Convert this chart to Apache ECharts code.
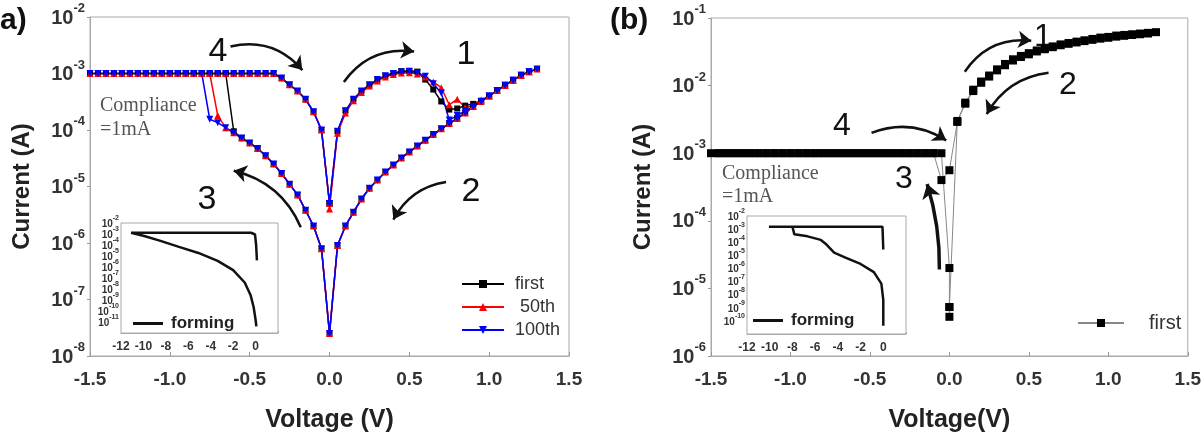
<!DOCTYPE html>
<html>
<head>
<meta charset="utf-8">
<script src="https://cdn.jsdelivr.net/npm/echarts@6/dist/echarts.min.js"></script>
<style>
  html, body { margin: 0; padding: 0; background: #fff; }
  #chart { width: 1204px; height: 438px; }
</style>
</head>
<body>
<div id="chart"></div>
<script>
// ---- panel (a): I-V sweeps, 0.05 V steps ----
const vUp = [0, 0.05, 0.1, 0.15, 0.2, 0.25, 0.3, 0.35, 0.4, 0.45, 0.5, 0.55, 0.6, 0.65, 0.7, 0.75, 0.8, 0.85, 0.9, 0.95, 1.0, 1.05, 1.1, 1.15, 1.2, 1.25, 1.3];
const vDown = [1.25, 1.2, 1.15, 1.1, 1.05, 1.0, 0.95, 0.9, 0.85, 0.8, 0.75, 0.7, 0.65, 0.6, 0.55, 0.5, 0.45, 0.4, 0.35, 0.3, 0.25, 0.2, 0.15, 0.1, 0.05, 0];
const vNeg = [-0.05, -0.1, -0.15, -0.2, -0.25, -0.3, -0.35, -0.4, -0.45, -0.5, -0.55, -0.6, -0.65, -0.7, -0.75, -0.8, -0.85, -0.9, -0.95, -1.0, -1.05, -1.1, -1.15, -1.2, -1.25, -1.3, -1.35, -1.4, -1.45, -1.5];
const vBack = [-1.45, -1.4, -1.35, -1.3, -1.25, -1.2, -1.15, -1.1, -1.05, -1.0, -0.95, -0.9, -0.85, -0.8, -0.75, -0.7, -0.65, -0.6, -0.55, -0.5, -0.45, -0.4, -0.35, -0.3, -0.25, -0.2, -0.15, -0.1, -0.05, 0];

const upFirst = [5.0e-6, 9.5e-5, 2.2e-4, 3.5e-4, 4.9e-4, 6.3e-4, 7.8e-4, 9.1e-4, 1.02e-3, 1.1e-3, 1.12e-3, 1.08e-3, 7.8e-4, 5.2e-4, 3.2e-4, 2.3e-4, 2.4e-4, 2.7e-4, 2.9e-4, 3.3e-4, 4.0e-4, 5.0e-4, 6.2e-4, 7.6e-4, 9.3e-4, 1.07e-3, 1.2e-3];
const upFifty = [4.0e-6, 8.8e-5, 2.0e-4, 3.3e-4, 4.6e-4, 6.0e-4, 7.4e-4, 8.7e-4, 9.6e-4, 1.02e-3, 1.03e-3, 9.8e-4, 8.7e-4, 7.1e-4, 5.6e-4, 2.8e-4, 3.5e-4, 2.5e-4, 2.7e-4, 3.4e-4, 4.0e-4, 5.0e-4, 6.2e-4, 7.6e-4, 9.3e-4, 1.07e-3, 1.2e-3];
const upHundred = [5.0e-6, 9.5e-5, 2.2e-4, 3.5e-4, 4.9e-4, 6.3e-4, 7.8e-4, 9.1e-4, 1.0e-3, 1.06e-3, 1.08e-3, 1.03e-3, 8.9e-4, 6.6e-4, 4.5e-4, 1.5e-4, 1.8e-4, 2.2e-4, 2.6e-4, 3.2e-4, 4.0e-4, 5.0e-4, 6.2e-4, 7.6e-4, 9.3e-4, 1.07e-3, 1.2e-3];

const downBranch = [1.07e-3, 9.3e-4, 7.6e-4, 6.2e-4, 5.0e-4, 4.0e-4, 3.2e-4, 2.6e-4, 2.0e-4, 1.6e-4, 1.3e-4, 1.05e-4, 8.3e-5, 6.6e-5, 5.2e-5, 4.1e-5, 3.2e-5, 2.4e-5, 1.8e-5, 1.3e-5, 9.3e-6, 6.0e-6, 3.5e-6, 2.0e-6, 9.0e-7, 2.5e-8];

const negFirst = [7.9e-7, 2.0e-6, 3.8e-6, 7.1e-6, 1.1e-5, 1.7e-5, 2.5e-5, 3.5e-5, 4.7e-5, 5.9e-5, 7.2e-5, 9.5e-5, 1e-3, 1e-3, 1e-3, 1e-3, 1e-3, 1e-3, 1e-3, 1e-3, 1e-3, 1e-3, 1e-3, 1e-3, 1e-3, 1e-3, 1e-3, 1e-3, 1e-3, 1e-3];
const negFifty = [7.9e-7, 2.0e-6, 3.8e-6, 7.1e-6, 1.1e-5, 1.7e-5, 2.5e-5, 3.5e-5, 4.7e-5, 5.9e-5, 7.2e-5, 8.9e-5, 1.1e-4, 1.8e-4, 1e-3, 1e-3, 1e-3, 1e-3, 1e-3, 1e-3, 1e-3, 1e-3, 1e-3, 1e-3, 1e-3, 1e-3, 1e-3, 1e-3, 1e-3, 1e-3];
const negHundred = [7.9e-7, 2.0e-6, 3.8e-6, 7.1e-6, 1.1e-5, 1.7e-5, 2.5e-5, 3.5e-5, 4.7e-5, 5.9e-5, 7.2e-5, 8.9e-5, 1.1e-4, 1.35e-4, 1.55e-4, 1e-3, 1e-3, 1e-3, 1e-3, 1e-3, 1e-3, 1e-3, 1e-3, 1e-3, 1e-3, 1e-3, 1e-3, 1e-3, 1e-3, 1e-3];

const backBranch = [1e-3, 1e-3, 1e-3, 1e-3, 1e-3, 1e-3, 1e-3, 1e-3, 1e-3, 1e-3, 1e-3, 1e-3, 1e-3, 1e-3, 1e-3, 1e-3, 1e-3, 1e-3, 1e-3, 1e-3, 1e-3, 1e-3, 1.0e-3, 8.3e-4, 6.3e-4, 4.9e-4, 3.5e-4, 2.1e-4, 1.0e-4, 5.0e-6];

// inset (a): forming sweep
const formingAV = [0.07, 0.0, -0.17, -0.45, -0.97, -2.0, -3.38, -5.1, -6.83, -8.55, -9.93, -11.1, -0.4, -0.05, 0.05, 0.12];
const formingAI = [4e-12, 1.6e-11, 2.2e-10, 2.9e-9, 3.9e-8, 5.2e-7, 3.6e-6, 1.9e-5, 6.8e-5, 2.5e-4, 6.6e-4, 1.3e-3, 1.3e-3, 9e-4, 1e-4, 4e-6];

// ---- panel (b): first sweep ----
const vbUp = [0.05, 0.1, 0.15, 0.2, 0.25, 0.3, 0.35, 0.4, 0.45, 0.5, 0.55, 0.6, 0.65, 0.7, 0.75, 0.8, 0.85, 0.9, 0.95, 1.0, 1.05, 1.1, 1.15, 1.2, 1.25, 1.3];
const ibUp = [3.0e-3, 5.6e-3, 8.7e-3, 1.15e-2, 1.41e-2, 1.74e-2, 2.09e-2, 2.45e-2, 2.75e-2, 3.02e-2, 3.31e-2, 3.55e-2, 3.8e-2, 4.07e-2, 4.27e-2, 4.47e-2, 4.68e-2, 4.9e-2, 5.13e-2, 5.25e-2, 5.5e-2, 5.62e-2, 5.75e-2, 5.89e-2, 6.03e-2, 6.17e-2];
const vbDown = [1.25, 1.2, 1.15, 1.1, 1.05, 1.0, 0.95, 0.9, 0.85, 0.8, 0.75, 0.7, 0.65, 0.6, 0.55, 0.5, 0.45, 0.4, 0.35, 0.3, 0.25, 0.2, 0.15, 0.1, 0.05, 0, -0.05];
const ibDown = [5.9e-2, 5.75e-2, 5.6e-2, 5.45e-2, 5.3e-2, 5.1e-2, 4.95e-2, 4.75e-2, 4.55e-2, 4.35e-2, 4.15e-2, 3.95e-2, 3.7e-2, 3.45e-2, 3.2e-2, 2.9e-2, 2.65e-2, 2.35e-2, 2.0e-2, 1.68e-2, 1.36e-2, 1.1e-2, 8.3e-3, 5.4e-3, 2.9e-3, 5.6e-4, 4.0e-4];
const vbSet = [-0.1, -0.15, -0.2, -0.25, -0.3, -0.35, -0.4, -0.45, -0.5, -0.55, -0.6, -0.65, -0.7, -0.75, -0.8, -0.85, -0.9, -0.95, -1.0, -1.05, -1.1, -1.15, -1.2, -1.25, -1.3, -1.35, -1.4, -1.45, -1.5,
               -1.45, -1.4, -1.35, -1.3, -1.25, -1.2, -1.15, -1.1, -1.05, -1.0, -0.95, -0.9, -0.85, -0.8, -0.75, -0.7, -0.65, -0.6, -0.55, -0.5, -0.45, -0.4, -0.35, -0.3, -0.25, -0.2, -0.15, -0.1, -0.05, 0, 0, 0];
const ibSet = [1e-3, 1e-3, 1e-3, 1e-3, 1e-3, 1e-3, 1e-3, 1e-3, 1e-3, 1e-3, 1e-3, 1e-3, 1e-3, 1e-3, 1e-3, 1e-3, 1e-3, 1e-3, 1e-3, 1e-3, 1e-3, 1e-3, 1e-3, 1e-3, 1e-3, 1e-3, 1e-3, 1e-3, 1e-3,
               1e-3, 1e-3, 1e-3, 1e-3, 1e-3, 1e-3, 1e-3, 1e-3, 1e-3, 1e-3, 1e-3, 1e-3, 1e-3, 1e-3, 1e-3, 1e-3, 1e-3, 1e-3, 1e-3, 1e-3, 1e-3, 1e-3, 1e-3, 1e-3, 1e-3, 1e-3, 1e-3, 1e-3, 1e-3, 2.0e-5, 5.3e-6, 3.8e-6];

// inset (b): forming sweep
const formingBV = [0, 0, -0.17, -0.83, -2.0, -3.33, -4.33, -5.0, -5.5, -6.67, -7.83, -8.0, -10.07, -0.07, 0.0];
const formingBI = [4.3e-11, 4.0e-9, 7.0e-8, 5.2e-7, 2.2e-6, 6.8e-6, 1.6e-5, 6.6e-5, 1.5e-4, 2.8e-4, 4.0e-4, 1.5e-3, 1.5e-3, 1.5e-3, 2.8e-5];

// curved arrows, in data units: [start, end, bend]
const arrowsA = [
  [[-0.62, 3.0e-3], [-0.17, 1.15e-3], 0.3],
  [[0.09, 7.1e-4], [0.53, 2.45e-3], 0.3],
  [[0.73, 1.2e-5], [0.40, 2.6e-6], -0.25],
  [[-0.18, 1.9e-6], [-0.60, 1.9e-5], -0.25]
];
const arrowsB = [
  [[0.097, 1.6e-2], [0.515, 4.6e-2], 0.3],
  [[0.624, 1.55e-2], [0.235, 3.8e-3], -0.25],
  [[-0.49, 2.0e-3], [-0.02, 1.55e-3], 0.25]
];
const arrowB3 = [[-0.063, 1.9e-5], [-0.14, 3.5e-4], -0.08];

const FONT = "'Liberation Sans', Arial, sans-serif";
const SERIF = "'Liberation Serif', 'Times New Roman', serif";

function zip(xs, ys) {
  return xs.map((x, i) => [x, ys[i]]);
}

function pow10(size, supSize, hideExp) {
  return {
    formatter: function (v) {
      const e = Math.round(Math.log10(v));
      if (e === hideExp) return '';
      return '{b|10}{s|' + e + '}';
    },
    rich: {
      b: { fontSize: size, fontWeight: 'bold', fontFamily: FONT, color: '#333', lineHeight: size + 2, verticalAlign: 'bottom' },
      s: { fontSize: supSize, fontWeight: 'bold', fontFamily: FONT, color: '#333', lineHeight: supSize, padding: [0, 0, supSize, 0], verticalAlign: 'bottom' }
    }
  };
}

const seqA = (up, neg) => zip(vUp, up).concat(zip(vDown, downBranch), zip(vNeg, neg), zip(vBack, backBranch));
const seqB = zip([0], [5.3e-6]).concat(zip(vbUp, ibUp), zip(vbDown, ibDown), zip(vbSet, ibSet));

function arrowData(list) {
  return list.map(a => ({ coords: [a[0], a[1]], lineStyle: { curveness: a[2] } }));
}

const mainX = (gi, name) => ({
  type: 'value', gridIndex: gi, min: -1.5, max: 1.5, interval: 0.5,
  name: name, nameLocation: 'middle', nameGap: 52,
  nameTextStyle: { fontSize: 25, fontWeight: 'bold', fontFamily: FONT, color: '#222' },
  axisLine: { show: true, onZero: false, lineStyle: { color: '#aaa' } },
  axisTick: { show: true, inside: true, length: 4, lineStyle: { color: '#999' } },
  axisLabel: { formatter: v => v.toFixed(1), fontSize: 19, fontWeight: 'bold', fontFamily: FONT, color: '#333', margin: 14 },
  splitLine: { show: false }
});
const mainY = (gi, min, max, n) => ({
  type: 'log', logBase: 10, gridIndex: gi, min: min, max: max, splitNumber: n,
  name: 'Current (A)', nameLocation: 'middle', nameGap: 56,
  nameTextStyle: { fontSize: 24, fontWeight: 'bold', fontFamily: FONT, color: '#222' },
  axisLine: { show: true, onZero: false, lineStyle: { color: '#aaa' } },
  axisTick: { show: true, length: 3, lineStyle: { color: '#999' } },
  axisLabel: Object.assign({ margin: 5 }, pow10(20, 13, null)),
  splitLine: { show: false }
});
const insetX = gi => ({
  type: 'value', gridIndex: gi, min: -12, max: 2, interval: 2,
  axisLine: { show: true, onZero: false, lineStyle: { color: '#aaa' } },
  axisTick: { show: true, inside: true, length: 2, lineStyle: { color: '#999' } },
  axisLabel: { formatter: v => (v === 2 ? '' : String(v)), fontSize: 12, fontWeight: 'bold', fontFamily: FONT, color: '#333', margin: 8 },
  splitLine: { show: false }
});
const insetY = (gi, min, n, hide) => ({
  type: 'log', logBase: 10, gridIndex: gi, min: min, max: 1e-2, splitNumber: n,
  axisLine: { show: true, onZero: false, lineStyle: { color: '#aaa' } },
  axisTick: { show: false },
  axisLabel: Object.assign({ margin: 2 }, pow10(10, 7, hide)),
  splitLine: { show: false }
});

const legendText = { fontSize: 18, color: '#333', fontFamily: FONT };
const formingText = { fontSize: 17, fontWeight: 'bold', color: '#222', fontFamily: FONT, padding: [0, 0, 0, 3] };

const option = {
  backgroundColor: '#fff',
  animation: false,
  grid: [
    { left: 90, top: 17, width: 479, height: 341, show: true, borderColor: '#aaa', borderWidth: 1 },
    { left: 121, top: 223, width: 157, height: 110, show: true, borderColor: '#aaa', borderWidth: 1, backgroundColor: '#fff', z: 5 },
    { left: 711, top: 18, width: 477, height: 340, show: true, borderColor: '#aaa', borderWidth: 1 },
    { left: 747, top: 216, width: 159, height: 118, show: true, borderColor: '#aaa', borderWidth: 1, backgroundColor: '#fff', z: 5 }
  ],
  xAxis: [mainX(0, 'Voltage (V)'), insetX(1), mainX(2, 'Voltage(V)'), insetX(3)],
  yAxis: [mainY(0, 1e-8, 1e-2, 6), insetY(1, 1e-12, 10, -12), mainY(2, 1e-6, 1e-1, 5), insetY(3, 1e-11, 9, -11)],
  legend: [
    { data: ['first', ' 50th', '100th'], orient: 'vertical', left: 456, top: 270, itemWidth: 42, itemHeight: 10, itemGap: 5, z: 10,
      textStyle: Object.assign({ padding: [0, 0, 0, 6] }, legendText) },
    { data: ['first '], left: 1072, top: 308, itemWidth: 46, itemHeight: 10, z: 10,
      textStyle: Object.assign({}, legendText, { fontSize: 20, padding: [0, 0, 0, 20] }) },
    { data: ['forming'], left: 128, top: 310, icon: 'rect', itemWidth: 30, itemHeight: 3, z: 10, textStyle: formingText },
    { data: ['forming '], left: 748, top: 307, icon: 'rect', itemWidth: 30, itemHeight: 3, z: 10, textStyle: formingText }
  ],
  series: [
    { name: 'first', type: 'line', xAxisIndex: 0, yAxisIndex: 0, data: seqA(upFirst, negFirst),
      symbol: 'rect', symbolSize: 6, color: '#000', lineStyle: { color: '#000', width: 1.5 }, itemStyle: { color: '#000' } },
    { name: ' 50th', type: 'line', xAxisIndex: 0, yAxisIndex: 0, data: seqA(upFifty, negFifty),
      symbol: 'triangle', symbolSize: 7, color: '#f00', lineStyle: { color: '#f00', width: 1.5 }, itemStyle: { color: '#f00' } },
    { name: '100th', type: 'line', xAxisIndex: 0, yAxisIndex: 0, data: seqA(upHundred, negHundred),
      symbol: 'path://M0,0 L10,0 L5,9 Z', symbolSize: 7, color: '#00f', lineStyle: { color: '#00f', width: 1.5 }, itemStyle: { color: '#00f' } },
    { name: 'forming', type: 'line', xAxisIndex: 1, yAxisIndex: 1, data: zip(formingAV, formingAI), z: 6,
      showSymbol: false, symbol: 'none', color: '#111', lineStyle: { color: '#111', width: 2.5 } },
    { name: 'first ', type: 'line', xAxisIndex: 2, yAxisIndex: 2, data: seqB,
      symbol: 'rect', symbolSize: 8, color: '#000', lineStyle: { color: '#888', width: 1 }, itemStyle: { color: '#000' } },
    { name: 'forming ', type: 'line', xAxisIndex: 3, yAxisIndex: 3, data: zip(formingBV, formingBI), z: 6,
      showSymbol: false, symbol: 'none', color: '#111', lineStyle: { color: '#111', width: 2.5 } },
    { type: 'lines', coordinateSystem: 'cartesian2d', xAxisIndex: 0, yAxisIndex: 0, z: 4,
      data: arrowData(arrowsA), symbol: ['none', 'arrow'], symbolSize: [0, 13],
      lineStyle: { color: '#111', width: 2.5, opacity: 1 } },
    { type: 'lines', coordinateSystem: 'cartesian2d', xAxisIndex: 2, yAxisIndex: 2, z: 4,
      data: arrowData(arrowsB), symbol: ['none', 'arrow'], symbolSize: [0, 13],
      lineStyle: { color: '#111', width: 2.5, opacity: 1 } },
    { type: 'lines', coordinateSystem: 'cartesian2d', xAxisIndex: 2, yAxisIndex: 2, z: 4,
      data: arrowData([arrowB3]), symbol: ['none', 'arrow'], symbolSize: [0, 14],
      lineStyle: { color: '#111', width: 3.5, opacity: 1 } }
  ],
  graphic: [
    { type: 'text', x: 0, y: 6, style: { text: 'a)', font: 'bold 30px ' + FONT, fill: '#111' } },
    { type: 'text', x: 610, y: 6, style: { text: '(b)', font: 'bold 30px ' + FONT, fill: '#111' } },
    // sweep order labels, panel a
    { type: 'text', x: 218, y: 52, style: { text: '4', font: '34px ' + FONT, fill: '#111', align: 'center', verticalAlign: 'middle' } },
    { type: 'text', x: 466, y: 55, style: { text: '1', font: '34px ' + FONT, fill: '#111', align: 'center', verticalAlign: 'middle' } },
    { type: 'text', x: 471, y: 192, style: { text: '2', font: '34px ' + FONT, fill: '#111', align: 'center', verticalAlign: 'middle' } },
    { type: 'text', x: 207, y: 200, style: { text: '3', font: '34px ' + FONT, fill: '#111', align: 'center', verticalAlign: 'middle' } },
    // sweep order labels, panel b
    { type: 'text', x: 1043, y: 37, style: { text: '1', font: '32px ' + FONT, fill: '#111', align: 'center', verticalAlign: 'middle' } },
    { type: 'text', x: 1068, y: 85, style: { text: '2', font: '32px ' + FONT, fill: '#111', align: 'center', verticalAlign: 'middle' } },
    { type: 'text', x: 842, y: 126, style: { text: '4', font: '32px ' + FONT, fill: '#111', align: 'center', verticalAlign: 'middle' } },
    { type: 'text', x: 904, y: 179, style: { text: '3', font: '32px ' + FONT, fill: '#111', align: 'center', verticalAlign: 'middle' } },
    // compliance notes
    { type: 'text', x: 100, y: 106, style: { text: 'Compliance', font: '20px ' + SERIF, fill: '#555', verticalAlign: 'middle' } },
    { type: 'text', x: 100, y: 130, style: { text: '=1mA', font: '20px ' + SERIF, fill: '#555', verticalAlign: 'middle' } },
    { type: 'text', x: 722, y: 174, style: { text: 'Compliance', font: '20px ' + SERIF, fill: '#555', verticalAlign: 'middle' } },
    { type: 'text', x: 722, y: 197, style: { text: '=1mA', font: '20px ' + SERIF, fill: '#555', verticalAlign: 'middle' } }
  ]
};

const chart = echarts.init(document.getElementById('chart'), null, { renderer: 'canvas' });
chart.setOption(option);
</script>
</body>
</html>
